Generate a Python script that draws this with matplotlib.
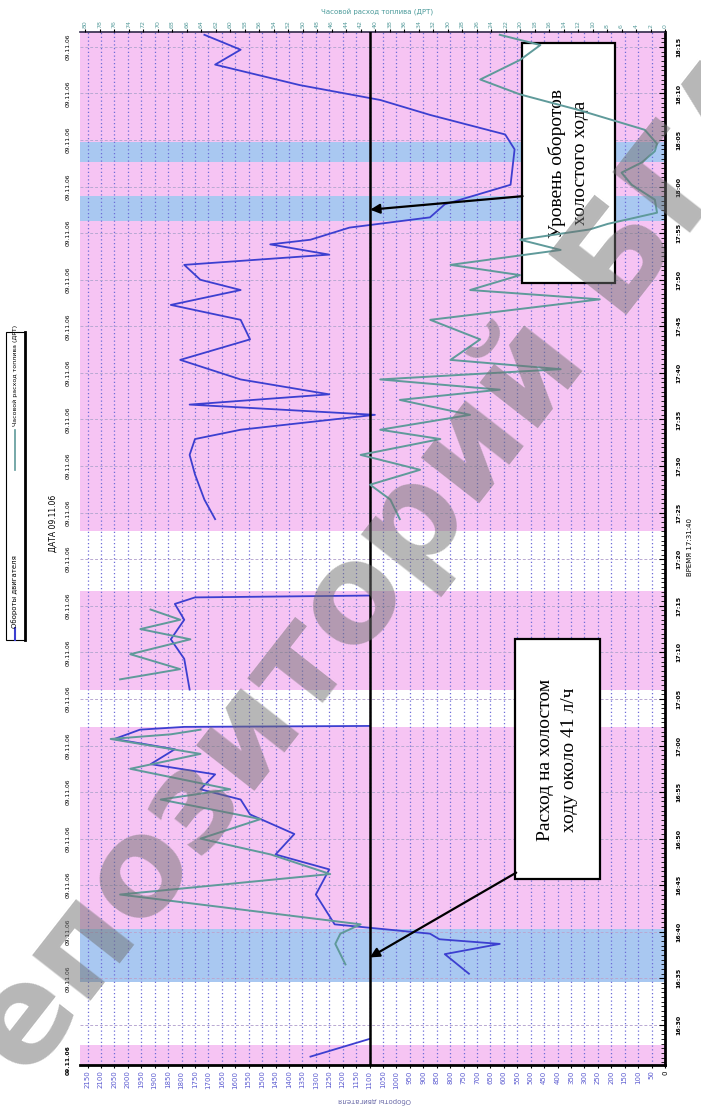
import matplotlib
matplotlib.use("Agg")
import matplotlib.pyplot as plt
import numpy as np
from matplotlib.patches import Rectangle
from matplotlib.lines import Line2D

W, H = 701, 1112
nan = np.nan

# time is in minutes after 16:00, engine speed in rpm, fuel in l/h
rpm_time = [26.6, 28.5, nan,
            35.5, 37.6, 38.7, 39.2, 39.8,
            40.8, 44.0, 46.7, 48.3, 50.5, 52.6, 54.2, 55.3, 56.9, 58.0, 59.6, 60.7, 61.7, 62.0, 62.1, nan,
            66.0, 69.3, 71.4, 73.5, 75.2, 75.9, 76.1, nan,
            84.3, 86.4, 89.1, 91.2, 92.9, 93.9, 95.5, 96.6, 97.7, 99.3, 101.4, 103.6, 105.7, 107.3, 108.9,
            110.0, 111.6, 112.7, 113.8, 114.3, 115.6, 116.7, 118.1, 120.2, 124.0, 125.6, 127.7, 129.3,
            130.9, 133.1, 134.7, 136.3]
rpm_value = [1320, 1100, nan,
             730, 820, 615, 840, 875,
             1230, 1300, 1250, 1450, 1380, 1545, 1580, 1730, 1675, 1915, 1825, 2050, 1955, 1790, 1100, nan,
             1770, 1790, 1840, 1790, 1825, 1750, 1100, nan,
             1675, 1715, 1750, 1770, 1750, 1580, 1080, 1770, 1250, 1580, 1805, 1545, 1580, 1840, 1580,
             1730, 1790, 1250, 1470, 1320, 1175, 875, 820, 575, 560, 595, 875, 1060,
             1360, 1675, 1580, 1715]

fuel_time = [36.5, 38.7, 39.8,
             40.8, 44.0, 46.2, 48.3, 50.0, 52.1, 54.2, 55.3, 57.5, 59.1, 60.7, 61.2, 61.7, nan,
             67.1, 68.2, 69.8, 71.4, 72.5, 73.5, 74.6, nan,
             84.3, 86.4, 88.0, 89.6, 91.2, 92.9, 93.9, 95.5, 97.1, 98.2, 99.3, 100.4, 101.4, 103.6,
             105.7, 107.9, 108.9, 110.5, 111.6, 113.2, 114.3, 115.4, 116.0, 117.2, 118.6, 120.2,
             121.5, 122.6, 123.8, 124.6, 126.1, 128.2, 129.9, 131.5, 133.6, 135.2, 136.3]
fuel_value = [44.1, 45.5, 44.8,
              42.0, 75.2, 46.2, 54.4, 64.1, 55.8, 69.6, 60.0, 73.8, 64.1, 76.5, 68.2, 64.1, nan,
              75.2, 66.9, 73.8, 65.5, 72.4, 66.9, 71.0, nan,
              36.6, 37.9, 40.7, 33.8, 42.0, 31.0, 39.3, 26.9, 36.6, 22.8, 39.3, 14.4, 29.6, 25.5,
              32.4, 9.0, 26.9, 20.0, 29.6, 14.4, 20.0, 10.4, 7.9, 1.1, 1.4, 4.6,
              6.0, 3.2, 1.4, 1.1, 2.8, 11.8, 20.0, 25.5, 20.0, 17.2, 22.8]

# background spans: (start, end, kind)
bands = [(25.7, 27.8, "pink"), (27.8, 34.6, "white"), (34.6, 40.3, "blue"),
         (40.3, 62.0, "pink"), (62.0, 66.0, "white"), (66.0, 76.6, "pink"),
         (76.6, 83.0, "white"), (83.0, 116.3, "pink"), (116.3, 119.0, "blue"),
         (119.0, 122.6, "pink"), (122.6, 124.8, "blue"), (124.8, 136.6, "pink")]
band_colors = {"pink": "#f6c4f3", "blue": "#a9c8f1", "white": "#ffffff"}

idle_rpm = 1100
time_ticks = list(range(30, 136, 5))
rpm_ticks = list(range(0, 2151, 50))
fuel_ticks = list(range(0, 81, 2))
date_label = "09.11.06"

t_min, t_max = 25.7, 136.6
rpm_max = 2180
fuel_max = 80.8


def px(x, y):
    return x / W, 1 - y / H


def clock(m):
    return "%d:%02d" % (16 + m // 60, m % 60)


fig = plt.figure(figsize=(W / 100, H / 100), dpi=100)
ax = fig.add_axes([79.5 / W, 47 / H, (665 - 79.5) / W, (1065 - 32) / H])
ax.set_xlim(rpm_max, 0)
ax.set_ylim(t_min, t_max)

for t0, t1, kind in bands:
    ax.axhspan(t0, t1, color=band_colors[kind], lw=0, zorder=0)

for r in rpm_ticks[1:]:
    ax.axvline(r, color="#6c6cd8", ls=(0, (1, 2)), lw=0.9, zorder=1)
for t in time_ticks:
    ax.axhline(t, color="#b9a9d2", ls=(0, (3, 2)), lw=0.7, zorder=1)

ax.plot(rpm_value, rpm_time, color="#3c3fd0", lw=1.3, zorder=3)
ax.axvline(idle_rpm, color="black", lw=1.8, zorder=4)

# axes / ticks
ax.set_xticks(rpm_ticks)
ax.set_xticklabels([str(r) for r in rpm_ticks], rotation=90, fontsize=5)
for lab in ax.get_xticklabels():
    lab.set_color("black" if lab.get_text() == "0" else "#5a5ad0")
ax.tick_params(axis="x", length=2, pad=2)

ax.yaxis.tick_right()
ax.set_yticks(time_ticks)
ax.set_yticklabels([clock(t) for t in time_ticks], rotation=90, fontsize=4.6,
                   va="center", fontweight="bold")
ax.set_yticks(np.arange(26, 136.5, 0.5), minor=True)
ax.tick_params(axis="y", which="major", length=4, direction="in", pad=8)
ax.tick_params(axis="y", which="minor", length=3, direction="in", width=0.6)

ax.spines["left"].set_visible(False)
ax.spines["right"].set_linewidth(2)
ax.spines["bottom"].set_linewidth(2)
ax.spines["top"].set_linewidth(1.2)
ax.spines["top"].set_color("#302848")

# fuel axis on top
ax2 = ax.twiny()
ax2.set_xlim(fuel_max, 0)
ax2.plot(fuel_value, fuel_time, color="#5f9a9a", lw=1.4, zorder=3)
ax2.set_xticks(fuel_ticks)
ax2.set_xticklabels([str(f) for f in fuel_ticks], rotation=90, fontsize=4.5, color="#5a9e9e")
ax2.tick_params(axis="x", length=2, pad=1)
for s in ax2.spines.values():
    s.set_visible(False)

# date labels (top axis of the original chart)
for t in [t_min + 0.5] + time_ticks[1:]:
    ax.text(-0.02, t, date_label, transform=ax.get_yaxis_transform(), rotation=90,
            ha="center", va="center", fontsize=4.3,
            fontweight="bold" if t < 30 else "normal")

# annotation boxes
ax.add_patch(Rectangle((186, 109.7), 346, 25.7, fill=True, fc="white", ec="black", lw=1.6, zorder=6))
ax.text(359, 122.5, "Уровень оборотов\nхолостого хода", rotation=90, ha="center", va="center",
        family="Liberation Serif", fontsize=14, linespacing=1.5, zorder=7)
ax.annotate("", xy=(idle_rpm + 8, 117.5), xytext=(520, 119.0),
            arrowprops=dict(arrowstyle="-|>", color="black", lw=1.6, mutation_scale=14), zorder=7)

ax.add_patch(Rectangle((242, 45.7), 316, 25.7, fill=True, fc="white", ec="black", lw=1.6, zorder=6))
ax.text(400, 58.5, "Расход на холостом\nходу около 41 л/ч", rotation=90, ha="center", va="center",
        family="Liberation Serif", fontsize=14, linespacing=1.5, zorder=7)
ax.annotate("", xy=(idle_rpm + 8, 37.1), xytext=(545, 46.5),
            arrowprops=dict(arrowstyle="-|>", color="black", lw=1.6, mutation_scale=14), zorder=7)

# texts around the plot
fig.text(*px(377, 12), "Часовой расход топлива (ДРТ)", ha="center", va="center",
         fontsize=5, color="#4a9a9a")
fig.text(*px(375, 1100), "Обороты двигателя", ha="center", va="center",
         fontsize=5, color="#6a6aa8", rotation=180)
fig.text(*px(53, 523), "ДАТА 09.11.06", ha="center", va="center", fontsize=5.5, rotation=90)
fig.text(*px(690, 547), "ВРЕМЯ 17:31:40", ha="center", va="center", fontsize=5, rotation=90)

# legend (rotated with the chart)
fig.patches.append(Rectangle(px(6, 640), 19 / W, 308 / H, transform=fig.transFigure,
                             fill=False, ec="black", lw=0.8))
fig.lines.append(Line2D([25 / W, 25 / W], [1 - 640 / H, 1 - 332 / H], transform=fig.transFigure,
                        color="black", lw=2))
fig.lines.append(Line2D([15 / W, 15 / W], [1 - 640 / H, 1 - 628 / H], transform=fig.transFigure,
                        color="#3c3fd0", lw=1.5))
fig.text(*px(15, 592), "Обороты двигателя", rotation=90, ha="center", va="center", fontsize=5)
fig.lines.append(Line2D([15 / W, 15 / W], [1 - 470 / H, 1 - 430 / H], transform=fig.transFigure,
                        color="#5f9a9a", lw=1.2))
fig.text(*px(15, 375), "Часовой расход топлива (ДРТ)", rotation=90, ha="center", va="center",
         fontsize=4.5)

# watermark
fig.text(*px(415, 525), "Репозиторий БГАТУ", rotation=52, ha="center", va="center",
         fontsize=98, fontweight="bold", color="#707070", alpha=0.5, zorder=20)

fig.savefig("out.png", dpi=100)
